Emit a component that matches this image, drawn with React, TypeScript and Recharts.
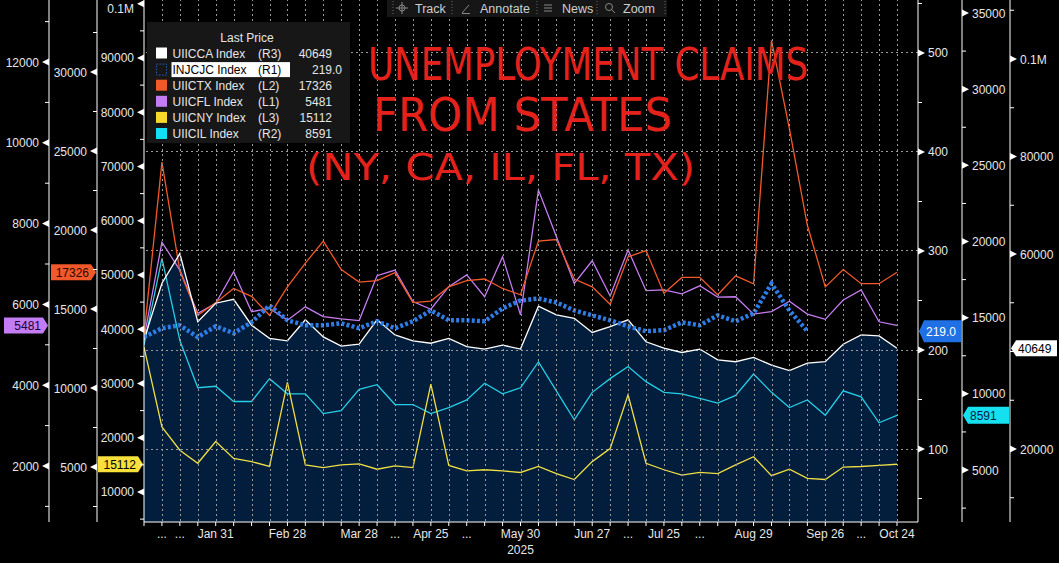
import React from 'react';
import { ComposedChart, Area, Line, XAxis, YAxis, ReferenceLine } from 'recharts';

const W = 1059;
const H = 563;
const L1W = 49, L2W = 48, L3W = 47, R1W = 44, R2W = 48, R3W = 49;
const XH = 41;
const PLOT_H = H - XH;

// axis ids: sorted order decides stacking (first = next to the plot)
const L3 = 'A_L3', L2 = 'B_L2', L1 = 'C_L1';
const R1 = 'A_R1', R2 = 'B_R2', R3 = 'C_R3';

const dates = ['Jan 3','Jan 10','Jan 17','Jan 24','Jan 31','Feb 7','Feb 14','Feb 21','Feb 28','Mar 7','Mar 14','Mar 21','Mar 28','Apr 4','Apr 11','Apr 18','Apr 25','May 2','May 9','May 16','May 23','May 30','Jun 6','Jun 13','Jun 20','Jun 27','Jul 4','Jul 11','Jul 18','Jul 25','Aug 1','Aug 8','Aug 15','Aug 22','Aug 29','Sep 5','Sep 12','Sep 19','Sep 26','Oct 3','Oct 10','Oct 17','Oct 24'];

const xTickLabels = ['', '...', '...', '', 'Jan 31', '', '', '', 'Feb 28', '', '', '', 'Mar 28', '', '...', '', 'Apr 25', '', '...', '', '', 'May 30', '', '', '', 'Jun 27', '', '...', '', 'Jul 25', '', '...', '', '', 'Aug 29', '', '', '', 'Sep 26', '', '...', '', 'Oct 24'];
const yearLabelAt = 'May 30';
const yearLabel = '2025';

// UIICCA (R3)
const caClaims = [42400,54000,60100,46100,49900,50700,45400,42700,42200,46500,43000,41100,41500,46500,43400,42200,41700,42700,41000,40500,41300,40500,49300,47500,46800,43900,45100,46500,42000,40700,39800,40500,38300,37900,38800,37200,36100,37600,37900,41500,43400,43200,40649];
// INJCJC (R1), in thousands
const usClaims = [213,222,225,213,224,217,228,245,230,225,225,227,222,229,222,229,240,230,230,229,242,250,252,248,240,235,230,224,219,220,228,225,235,229,237,267,240,219.0];
// UIICTX (L2)
const txClaims = [13350,24300,17400,14600,15400,16300,15800,14600,16400,17900,19300,17500,16700,16800,17300,15400,15500,16400,16800,16900,16300,15900,19300,19400,16900,16400,15300,18300,18700,16000,17000,17000,15900,17100,16600,32000,26400,20300,16400,17500,16600,16600,17326];
// UIICFL (L1)
const flClaims = [5170,7540,6850,5780,6030,6810,5820,5900,5610,5940,5700,5640,5600,6710,6850,6070,5880,6440,6730,6190,7180,5740,8830,7680,6520,7080,6210,7350,6340,6360,6260,6460,6180,6190,5760,5820,6080,5760,5630,6110,6360,5570,5481];
// UIICNY (L3)
const nyClaims = [36700,22000,17700,15300,19300,16200,15600,14700,30200,15000,14500,15000,15200,14200,14800,14500,29900,14900,13900,14100,13900,13600,14700,13400,12300,15600,18000,27900,15300,14100,13100,13600,13400,15000,16500,13000,14200,12500,12300,14600,14700,14900,15112];
// UIICIL (R2)
const ilClaims = [13200,18900,13500,10400,10500,9500,9500,11000,10000,10000,8700,8900,10300,10600,9300,9300,8700,9100,9600,10700,10000,10400,12100,10200,8300,10100,11000,11800,10800,10100,10000,9700,9400,9900,11300,10100,9100,9600,8600,10200,9800,8100,8591];

const l1Major = [2000,4000,6000,8000,10000,12000];
const l1Minor = [1000,3000,5000,7000,9000,11000,13000];
const l2Major = [5000,10000,15000,20000,25000,30000];
const l2Minor = [2500,7500,12500,17500,22500,27500,32500];
const l3Major = [10000,20000,30000,40000,50000,60000,70000,80000,90000,100000];
const l3Minor = [5000,15000,25000,35000,45000,55000,65000,75000,85000,95000];
const r1Major = [100,200,300,400,500];
const r1Minor = [50,150,250,350,450,550];
const r2Major = [5000,10000,15000,20000,25000,30000,35000];
const r2Minor = [2500,7500,12500,17500,22500,27500,32500];
const r3Major = [20000,60000,80000,100000];
const r3Minor = [10000,30000,40000,50000,70000,90000,110000];

const l1Domain = [614, 13535];
const l2Domain = [1519, 34557];
const l3Domain = [4470, 100691];
const r1Domain = [26.3, 553.5];
const r2Domain = [1589, 35854];
const r3Domain = [5026, 112103];

const COL = {
  ca: '#ffffff',
  us: '#2e7de6',
  tx: '#f2592a',
  fl: '#c67cf2',
  ny: '#efdf45',
  il: '#25cfe6',
  area: '#052f61',
  grid: '#9a9a9a',
};

const FONT = '"Liberation Sans", Arial, sans-serif';

const weekIdx = dates.map((_, i) => i);

const data = dates.map((d, i) => ({
  idx: i,
  date: d,
  ca: caClaims[i],
  us: i < usClaims.length ? usClaims[i] : null,
  tx: txClaims[i],
  fl: flClaims[i],
  ny: nyClaims[i],
  il: ilClaims[i],
}));

const fmt = (v: number) => (v >= 100000 ? '0.1M' : String(v));

function makeYTick(side: 'left' | 'right', majors: number[]) {
  return (props: any) => {
    const { x, y, payload } = props;
    const v = payload.value;
    const dir = side === 'left' ? -1 : 1;
    if (!majors.includes(v)) {
      return <line x1={x} x2={x + dir * 4} y1={y} y2={y} stroke="#ffffff" strokeWidth={1} />;
    }
    const ly = Math.max(y, 8);
    return (
      <g>
        <polygon points={`${x},${y - 3.5} ${x},${y + 3.5} ${x + dir * 7},${y}`} fill="#ffffff" />
        <text x={x + dir * 10} y={ly} dy={4.5} textAnchor={side === 'left' ? 'end' : 'start'} fill="#e6e6e6" fontSize={12} fontFamily={FONT}>
          {fmt(v)}
        </text>
      </g>
    );
  };
}

const XTick = (props: any) => {
  const { x, y, payload } = props;
  const idx = Math.round(payload.value);
  const label = xTickLabels[idx];
  const gx = Math.round(x) + 0.5;
  return (
    <g>
      {idx > 0 ? (
        <line x1={gx} x2={gx} y1={y - 1} y2={y - PLOT_H} stroke={COL.grid} strokeDasharray="2 3" strokeWidth={1} />
      ) : null}
      <line x1={x} x2={x} y1={y} y2={y + 4} stroke="#ffffff" />
      {label ? (
        <text x={x} y={y + 16} textAnchor="middle" fill="#e6e6e6" fontSize={12} fontFamily={FONT}>{label}</text>
      ) : null}
      {dates[idx] === yearLabelAt ? (
        <text x={x} y={y + 32} textAnchor="middle" fill="#e6e6e6" fontSize={12} fontFamily={FONT}>{yearLabel}</text>
      ) : null}
    </g>
  );
};

function makeTag(side: 'left' | 'right', axisOffset: number, fill: string, textColor: string, text: string, h = 16, w = 46) {
  return (props: any) => {
    const vb = props.viewBox || {};
    const y = vb.y;
    if (y == null) return null;
    const hh = h / 2;
    if (side === 'left') {
      const ax = vb.x - axisOffset;
      const pts = `${ax - w},${y - hh} ${ax - 6},${y - hh} ${ax - 1},${y} ${ax - 6},${y + hh} ${ax - w},${y + hh}`;
      return (
        <g>
          <polygon points={pts} fill={fill} />
          <text x={ax - 8} y={y} dy={4.5} textAnchor="end" fill={textColor} fontSize={12} fontFamily={FONT}>{text}</text>
        </g>
      );
    }
    const ax = vb.x + vb.width + axisOffset;
    const pts = `${ax + 1},${y} ${ax + 6},${y - hh} ${ax + w},${y - hh} ${ax + w},${y + hh} ${ax + 6},${y + hh}`;
    return (
      <g>
        <polygon points={pts} fill={fill} />
        <text x={ax + 8} y={y} dy={4.5} textAnchor="start" fill={textColor} fontSize={12} fontFamily={FONT}>{text}</text>
      </g>
    );
  };
}

const last = (arr: number[]) => arr[arr.length - 1];

const legendRows = [
  { name: 'UIICCA Index', axis: '(R3)', value: String(last(caClaims)), color: '#ffffff', kind: 'solid' },
  { name: 'INJCJC Index', axis: '(R1)', value: last(usClaims).toFixed(1), color: '#2a5fb8', kind: 'dotted' },
  { name: 'UIICTX Index', axis: '(L2)', value: String(last(txClaims)), color: '#f2592a', kind: 'solid' },
  { name: 'UIICFL Index', axis: '(L1)', value: String(last(flClaims)), color: '#c47cf5', kind: 'solid' },
  { name: 'UIICNY Index', axis: '(L3)', value: String(last(nyClaims)), color: '#fbd92c', kind: 'solid' },
  { name: 'UIICIL Index', axis: '(R2)', value: String(last(ilClaims)), color: '#14e0f5', kind: 'solid' },
];

const axisCommon = {
  type: 'number' as const,
  allowDataOverflow: true,
  interval: 0 as const,
  tickSize: 0,
  tickMargin: 0,
  tickLine: false,
  axisLine: { stroke: '#ffffff' },
};

export default function App() {
  return (
    <div style={{ position: 'absolute', left: 0, top: 0, width: W, height: H, background: '#000', overflow: 'hidden' }}>
      <ComposedChart width={W} height={H} data={data} margin={{ top: 0, right: 0, bottom: 0, left: 0 }}>
        <Area yAxisId={R3} dataKey="ca" type="linear" stroke="none" fill={COL.area} fillOpacity={0.62} isAnimationActive={false} dot={false} activeDot={false} />

        <XAxis
          dataKey="idx"
          type="number"
          domain={[0, dates.length - 1]}
          ticks={weekIdx}
          allowDataOverflow
          padding={{ left: 0, right: 21 }}
          interval={0}
          tickSize={0}
          tickMargin={0}
          tickLine={false}
          axisLine={{ stroke: '#ffffff' }}
          height={XH}
          tick={<XTick />}
        />
        <YAxis yAxisId={L3} orientation="left" width={L3W} domain={l3Domain} ticks={[...l3Major, ...l3Minor]} tick={makeYTick('left', l3Major)} {...axisCommon} />
        <YAxis yAxisId={L2} orientation="left" width={L2W} domain={l2Domain} ticks={[...l2Major, ...l2Minor]} tick={makeYTick('left', l2Major)} {...axisCommon} />
        <YAxis yAxisId={L1} orientation="left" width={L1W} domain={l1Domain} ticks={[...l1Major, ...l1Minor]} tick={makeYTick('left', l1Major)} {...axisCommon} />
        <YAxis yAxisId={R1} orientation="right" width={R1W} domain={r1Domain} ticks={[...r1Major, ...r1Minor]} tick={makeYTick('right', r1Major)} {...axisCommon} />
        <YAxis yAxisId={R2} orientation="right" width={R2W} domain={r2Domain} ticks={[...r2Major, ...r2Minor]} tick={makeYTick('right', r2Major)} {...axisCommon} />
        <YAxis yAxisId={R3} orientation="right" width={R3W} domain={r3Domain} ticks={[...r3Major, ...r3Minor]} tick={makeYTick('right', r3Major)} {...axisCommon} />

        {r1Major.map((v) => (
          <ReferenceLine key={'g' + v} yAxisId={R1} y={v} stroke={COL.grid} strokeDasharray="2 3" strokeWidth={1} shapeRendering="crispEdges" />
        ))}

        <Line yAxisId={R2} dataKey="il" type="linear" stroke={COL.il} strokeWidth={1.3} dot={false} activeDot={false} isAnimationActive={false} />
        <Line yAxisId={L3} dataKey="ny" type="linear" stroke={COL.ny} strokeWidth={1.3} dot={false} activeDot={false} isAnimationActive={false} />
        <Line yAxisId={L1} dataKey="fl" type="linear" stroke={COL.fl} strokeWidth={1.3} dot={false} activeDot={false} isAnimationActive={false} />
        <Line yAxisId={L2} dataKey="tx" type="linear" stroke={COL.tx} strokeWidth={1.3} dot={false} activeDot={false} isAnimationActive={false} />
        <Line yAxisId={R3} dataKey="ca" type="linear" stroke={COL.ca} strokeWidth={1.3} dot={false} activeDot={false} isAnimationActive={false} />
        <Line yAxisId={R1} dataKey="us" type="linear" stroke={COL.us} strokeWidth={4.5} strokeDasharray="3 2.2" dot={false} activeDot={false} isAnimationActive={false} connectNulls={false} />

        <ReferenceLine yAxisId={L2} y={last(txClaims)} stroke="none" ifOverflow="visible" label={makeTag('left', L3W, '#f2592a', '#2a0800', String(last(txClaims)))} />
        <ReferenceLine yAxisId={L1} y={last(flClaims)} stroke="none" ifOverflow="visible" label={makeTag('left', L3W + L2W, '#c47cf5', '#1c0030', String(last(flClaims)), 16, 45)} />
        <ReferenceLine yAxisId={L3} y={last(nyClaims)} stroke="none" ifOverflow="visible" label={makeTag('left', 0, '#f7e03a', '#000000', String(last(nyClaims)))} />
        <ReferenceLine yAxisId={R1} y={last(usClaims)} stroke="none" ifOverflow="visible" label={makeTag('right', 0, '#1f6fe5', '#ffffff', last(usClaims).toFixed(1), 22, 43)} />
        <ReferenceLine yAxisId={R2} y={last(ilClaims)} stroke="none" ifOverflow="visible" label={makeTag('right', R1W, '#14e0f0', '#062040', String(last(ilClaims)), 17, 47)} />
        <ReferenceLine yAxisId={R3} y={last(caClaims)} stroke="none" ifOverflow="visible" label={makeTag('right', R1W + R2W, '#ffffff', '#000000', String(last(caClaims)), 16, 47)} />
      </ComposedChart>

      <svg width={W} height={H} style={{ position: 'absolute', left: 0, top: 0, pointerEvents: 'none' }}>
        {/* toolbar */}
        <g fontFamily={FONT} fontSize={12.5} fill="#cfcfcf">
          <rect x={387} y={0} width={280} height={17} fill="#161616" />
          {[393, 452, 537, 597, 665].map((sx) => (
            <line key={sx} x1={sx} x2={sx} y1={1} y2={16} stroke="#666" strokeDasharray="1 2" />
          ))}
          <circle cx={402} cy={8} r={3} fill="none" stroke="#888" />
          <line x1={396} x2={408} y1={8} y2={8} stroke="#888" />
          <line x1={402} x2={402} y1={2} y2={14} stroke="#888" />
          <text x={415} y={12.5}>Track</text>
          <line x1={462} x2={469} y1={13} y2={5} stroke="#888" />
          <line x1={462} x2={470} y1={13.5} y2={13.5} stroke="#888" />
          <text x={480} y={12.5}>Annotate</text>
          <line x1={544} x2={552} y1={5} y2={5} stroke="#888" />
          <line x1={544} x2={552} y1={8} y2={8} stroke="#888" />
          <line x1={544} x2={552} y1={11} y2={11} stroke="#888" />
          <text x={562} y={12.5}>News</text>
          <circle cx={609} cy={7} r={3.5} fill="none" stroke="#888" />
          <line x1={611.5} x2={615} y1={9.5} y2={13} stroke="#888" />
          <text x={623} y={12.5}>Zoom</text>
        </g>

        {/* legend */}
        <g fontFamily={FONT} fontSize={12}>
          <rect x={147} y={22} width={203} height={121} fill="#171717" />
          <text x={247} y={42} textAnchor="middle" fill="#e6e6e6">Last Price</text>
          {legendRows.map((r, i) => {
            const cy = 53.5 + i * 16.1;
            const hl = r.kind === 'dotted';
            return (
              <g key={r.name}>
                {hl ? (
                  <rect x={156.5} y={cy - 5.5} width={10} height={11} fill="none" stroke={r.color} strokeDasharray="1.5 1.5" />
                ) : (
                  <rect x={156} y={cy - 6} width={11} height={11} fill={r.color} />
                )}
                {hl ? <rect x={171.5} y={cy - 7.5} width={118.5} height={15} fill="#ffffff" /> : null}
                <text x={172.5} y={cy} dy={4.3} fill={hl ? '#000' : '#e6e6e6'}>{r.name}</text>
                <text x={258} y={cy} dy={4.3} fill={hl ? '#000' : '#e6e6e6'}>{r.axis}</text>
                <text x={hl ? 342 : 332} y={cy} dy={4.3} textAnchor="end" fill="#e6e6e6">{r.value}</text>
              </g>
            );
          })}
        </g>

        {/* handwritten annotation */}
        <g fill="#e4221b" fontFamily='"DejaVu Sans", sans-serif'>
          <text x={368} y={80} fontSize={44} textLength={440} lengthAdjust="spacingAndGlyphs">UNEMPLOYMENT CLAIMS</text>
          <text x={373} y={131} fontSize={46} textLength={299} lengthAdjust="spacingAndGlyphs">FROM STATES</text>
          <text x={306} y={180} fontSize={38} textLength={389} lengthAdjust="spacingAndGlyphs">(NY, CA, IL, FL, TX)</text>
        </g>
      </svg>
    </div>
  );
}
